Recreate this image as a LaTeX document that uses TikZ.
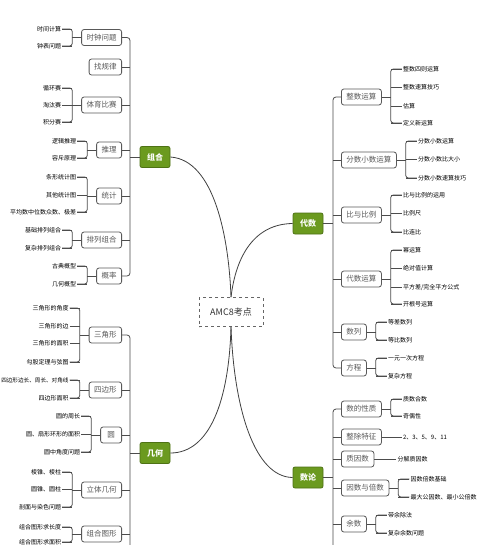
\documentclass[tikz,border=0pt]{standalone}
\usepackage{fontspec}
\setmainfont{Noto Sans CJK SC}
\usetikzlibrary{calc}
\definecolor{grn}{HTML}{6B9A1F}
\definecolor{grnd}{HTML}{4E7215}
\tikzset{
  sub/.style={draw=black!65, line width=0.8pt, rounded corners=2.5pt, fill=white,
    text=black!65, font=\fontsize{7.5}{8}\selectfont, inner xsep=5pt, inner ysep=2pt,
    minimum height=16pt, minimum width=21pt},
  main/.style={draw=grnd, line width=0.8pt, rounded corners=2pt, fill=grn,
    text=white, font=\fontsize{8}{9}\selectfont\bfseries, inner xsep=7pt,
    minimum height=21pt},
  root/.style={draw=black!60, dashed, line width=0.7pt, fill=white, text=black!80,
    font=\fontsize{9}{10}\selectfont, minimum width=64pt, minimum height=29pt},
  leaf/.style={inner sep=1pt, text=black, font=\fontsize{6}{7}\selectfont},
  conn/.style={draw=black!70, line width=0.8pt},
  curve/.style={draw=black!75, line width=0.8pt},
}
% left group: #1 name, #2 y, #3 label, #4 list y/text, #5 number of leaves
\newcommand\grpL[5]{%
  \node[sub,anchor=east] (#1) at (122,#2) {#3};
  \coordinate (#1b) at ([xshift=-9pt]#1.west);
  \coordinate (#1t) at ([xshift=-19pt]#1.west);
  \draw[conn] (#1.west) -- (#1b);
  \foreach \yy/\tx [count=\i] in {#4}{
    \node[leaf,anchor=east] (#1l\i) at (#1t |- 0,\yy) {\tx};
    \draw[conn] (#1l\i.east) -- (#1l\i.east -| #1b);
  }
  \draw[conn,rounded corners=2.5pt] (#1l1.east) -- (#1l1.east -| #1b) -- (#1l#5.east -| #1b) -- (#1l#5.east);
}
\newcommand\grpR[5]{%
  \node[sub,anchor=west] (#1) at (341,#2) {#3};
  \coordinate (#1b) at ([xshift=9pt]#1.east);
  \coordinate (#1t) at ([xshift=20pt]#1.east);
  \draw[conn] (#1.east) -- (#1b);
  \foreach \yy/\tx [count=\i] in {#4}{
    \node[leaf,anchor=west] (#1l\i) at (#1t |- 0,\yy) {\tx};
    \draw[conn] (#1l\i.west) -- (#1l\i.west -| #1b);
  }
  \draw[conn,rounded corners=2.5pt] (#1l1.west) -- (#1l1.west -| #1b) -- (#1l#5.west -| #1b) -- (#1l#5.west);
}
\begin{document}
\begin{tikzpicture}[x=1pt,y=-1pt]
\fill[white] (0,0) rectangle (481,545);
\useasboundingbox (0,0) rectangle (481,545);
\coordinate (tL) at (130,0);
\coordinate (tR) at (333,0);
\coordinate (bot) at (0,545);

% ---------- 组合 ----------
\grpL{sA}{37.5}{时钟问题}{29/时间计算,46/钟表问题}{2}
\node[sub,anchor=east] (sB) at (122,67) {找规律};
\grpL{sC}{105}{体育比赛}{88/循环赛,105/淘汰赛,122/积分赛}{3}
\grpL{sD}{150}{推理}{141/逻辑推理,158/容斥原理}{2}
\grpL{sE}{196}{统计}{177/条形统计图,195/其他统计图,212/平均数中位数众数、极差}{3}
\grpL{sF}{240}{排列组合}{230/基础排列组合,248/复杂排列组合}{2}
\grpL{sG}{276}{概率}{266/古典概型,284/几何概型}{2}
\node[main] (zuhe) at (155,157) {组合};
\draw[conn,rounded corners=3pt] (sA.east) -- (sA.east -| tL) -- (sG.east -| tL) -- (sG.east);
\foreach \s in {sB,sC,sD,sE,sF}{\draw[conn] (\s.east) -- (\s.east -| tL);}
\draw[conn] (zuhe.west) -- (zuhe.west -| tL);

% ---------- 几何 ----------
\grpL{gA}{335}{三角形}{308/三角形的角度,326/三角形的边,343/三角形的面积,362/勾股定理与弦图}{4}
\grpL{gB}{390}{四边形}{380/{\fontsize{5.6}{6.5}\selectfont 四边形边长、周长、对角线},398/四边形面积}{2}
\grpL{gC}{435}{圆}{416/圆的周长,434/圆、扇形环形的面积,452/圆中角度问题}{3}
\grpL{gD}{490}{立体几何}{472/棱锥、棱柱,489/圆锥、圆柱,507/剖面与染色问题}{3}
\grpL{gE}{534}{组合图形}{527/组合图形求长度,542/组合图形求面积}{2}
\node[main] (jihe) at (155,453) {几何};
\draw[conn,rounded corners=3pt] (gA.east) -- (gA.east -| tL) -- (tL |- bot);
\foreach \s in {gB,gC,gD,gE}{\draw[conn] (\s.east) -- (\s.east -| tL);}
\draw[conn] (jihe.west) -- (jihe.west -| tL);

% ---------- 代数 ----------
\grpR{aA}{97}{整数运算}{69/整数四则运算,87/整数速算技巧,106/估算,123/定义新运算}{4}
\grpR{aB}{160}{分数小数运算}{141/分数小数运算,159/分数小数比大小,178/分数小数速算技巧}{3}
\grpR{aC}{215}{比与比例}{195/比与比例的运用,213/比例尺,232/比连比}{3}
\grpR{aD}{279}{代数运算}{250/幂运算,268/绝对值计算,287/{平方差/完全平方公式},304/开根号运算}{4}
\grpR{aE}{332}{数列}{322/等差数列,340/等比数列}{2}
\grpR{aF}{368}{方程}{358/一元一次方程,376/复杂方程}{2}
\node[main] (daishu) at (308,223.5) {代数};
\draw[conn,rounded corners=3pt] (aA.west) -- (aA.west -| tR) -- (aF.west -| tR) -- (aF.west);
\foreach \s in {aB,aC,aD,aE}{\draw[conn] (\s.west) -- (\s.west -| tR);}
\draw[conn] (daishu.east) -- (daishu.east -| tR);

% ---------- 数论 ----------
\grpR{nA}{409}{数的性质}{399/质数合数,416/奇偶性}{2}
\node[sub,anchor=west] (nB) at (341,437) {整除特征};
\node[leaf,anchor=west] (nBl) at ([xshift=20pt]nB.east) {2、3、5、9、11};
\draw[conn] (nB.east) -- (nBl.west);
\node[sub,anchor=west] (nC) at (341,459) {质因数};
\node[leaf,anchor=west] (nCl) at ([xshift=22pt]nC.east) {分解质因数};
\draw[conn] (nC.east) -- (nCl.west);
\grpR{nD}{488}{因数与倍数}{479/因数倍数基础,497/最大公因数、最小公倍数}{2}
\grpR{nE}{524}{余数}{515/带余除法,533/复杂余数问题}{2}
\node[main] (shulun) at (308,477.5) {数论};
\draw[conn,rounded corners=3pt] (nA.west) -- (nA.west -| tR) -- (tR |- bot);
\foreach \s in {nB,nC,nD,nE}{\draw[conn] (\s.west) -- (\s.west -| tR);}
\draw[conn] (shulun.east) -- (shulun.east -| tR);

% ---------- root ----------
\node[root] (root) at (231,312) {AMC8考点};
\draw[curve] (zuhe.east) .. controls (215,160) and (229,240) .. (root.north);
\draw[curve] (daishu.west) .. controls (255,224) and (236,255) .. (root.north);
\draw[curve] (root.south) .. controls (229,400) and (210,453) .. (jihe.east);
\draw[curve] (root.south) .. controls (234,410) and (255,477) .. (shulun.west);
\end{tikzpicture}
\end{document}
